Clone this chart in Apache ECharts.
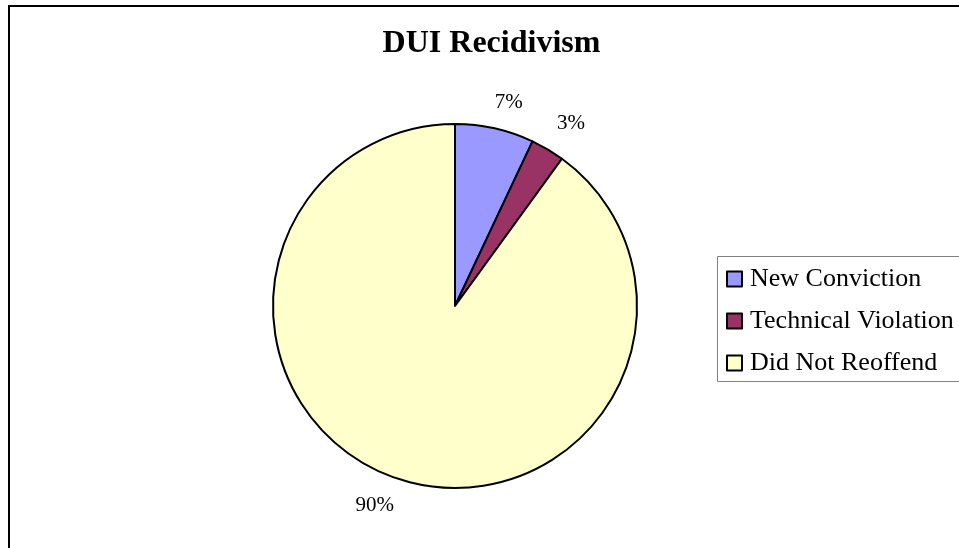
<!DOCTYPE html>
<html>
<head>
<meta charset="utf-8">
<script src="https://cdn.jsdelivr.net/npm/echarts@6/dist/echarts.min.js"></script>
<style>
html,body{margin:0;padding:0;background:#fff;}
#c{width:959px;height:548px;}
</style>
</head>
<body>
<div id="c"></div>
<script>
var titleText = 'DUI Recidivism';
var categories = ['New Conviction', 'Technical Violation', 'Did Not Reoffend'];
var values = [7, 3, 90];
var colors = ['#9999FF', '#993366', '#FFFFCC'];
var labelNudges = [[7, 5], [7, 2], [-14, -4]];

var FONT = "'Liberation Serif', 'Times New Roman', serif";
var chart = echarts.init(document.getElementById('c'), null, {renderer: 'canvas'});

var data = categories.map(function (name, i) {
  return { name: name, value: values[i], itemStyle: { color: colors[i] } };
});

chart.setOption({
  animation: false,
  backgroundColor: '#ffffff',
  title: {
    text: titleText,
    left: 491.5,
    top: 28,
    textAlign: 'center',
    padding: 0,
    textStyle: { fontFamily: FONT, fontWeight: 'bold', fontSize: 32, color: '#000' }
  },
  graphic: [
    { type: 'rect', silent: true, z: -1,
      shape: { x: 9, y: 6, width: 1000, height: 600 },
      style: { fill: 'none', stroke: '#000', lineWidth: 2 } },
    { type: 'rect', silent: true, z: 0,
      shape: { x: 717.5, y: 256.5, width: 300, height: 125 },
      style: { fill: '#fff', stroke: '#808080', lineWidth: 1 } }
  ],
  legend: {
    orient: 'vertical',
    left: 726,
    top: 266,
    padding: 0,
    itemGap: 16,
    itemWidth: 15,
    itemHeight: 15,
    icon: 'rect',
    data: categories,
    itemStyle: { borderColor: '#000', borderWidth: 2 },
    textStyle: { fontFamily: FONT, fontSize: 26, color: '#000', padding: [0, 0, 0, 3] }
  },
  series: [{
    type: 'pie',
    center: [455, 306],
    radius: 182,
    startAngle: 90,
    clockwise: true,
    data: data,
    emphasis: { disabled: true },
    itemStyle: { borderColor: '#000', borderWidth: 2 },
    label: {
      show: true,
      position: 'outside',
      formatter: function (p) { return p.value + '%'; },
      fontFamily: FONT,
      fontSize: 21,
      color: '#000',
      distanceToLabelLine: 0
    },
    labelLine: { show: false, length: 32, length2: 0 },
    labelLayout: function (p) {
      var n = labelNudges[p.dataIndex];
      return { align: 'center', verticalAlign: 'middle', dx: n[0], dy: n[1] };
    }
  }]
});
</script>
</body>
</html>
